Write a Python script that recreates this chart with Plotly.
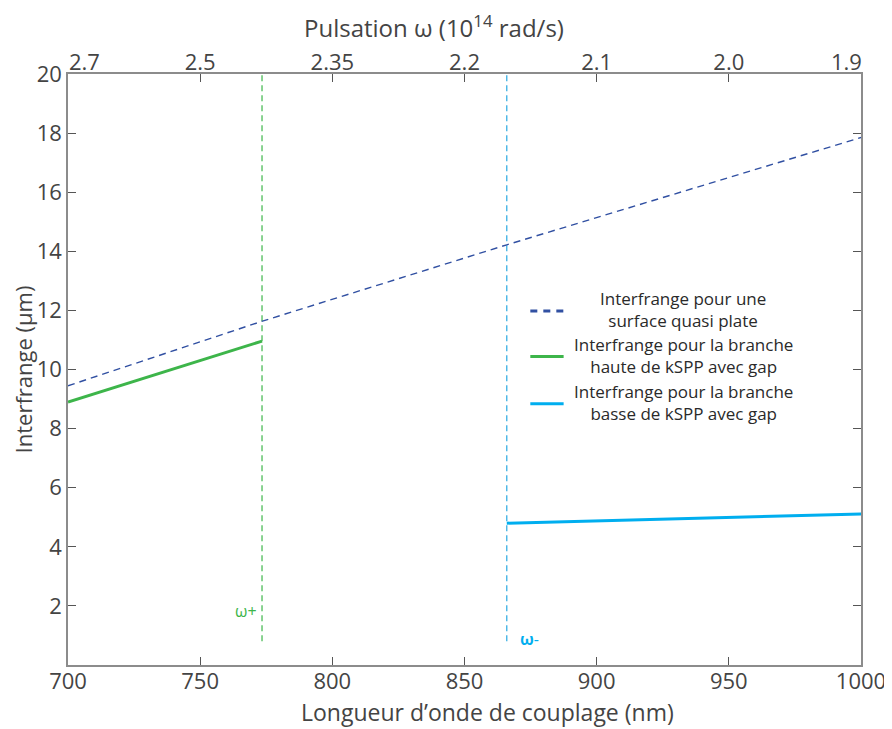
import plotly.graph_objects as go

# ---- data ----
wavelength_ticks = [700, 750, 800, 850, 900, 950, 1000]
omega_labels = ["2.7", "2.5", "2.35", "2.2", "2.1", "2.0", "1.9"]
y_ticks = [2, 4, 6, 8, 10, 12, 14, 16, 18, 20]

flat_x = [700, 773, 866, 1000]
flat_y = [9.45, 11.62, 14.22, 17.85]

high_x = [700, 773.4]
high_y = [8.9, 10.96]

low_x = [866, 1000]
low_y = [4.8, 5.11]

omega_plus_x = 773.4
omega_minus_x = 866
vline_y = [0.8, 20]

legend_names = [
    "Interfrange pour une<br>surface quasi plate",
    "Interfrange pour la branche<br>haute de kSPP avec gap",
    "Interfrange pour la branche<br>basse de kSPP avec gap",
]

x_title = "Longueur d’onde de couplage (nm)"
x2_title = "Pulsation ω (10<sup>14</sup> rad/s)"
y_title = "Interfrange (µm)"

NAVY = "#3150a2"
GREEN = "#3db54a"
CYAN = "#00aeef"
VCYAN = "#29a9e1"
TXT = "#444444"
FONT = "Open Sans"

fig = go.Figure()

fig.add_trace(go.Scatter(x=[omega_plus_x, omega_plus_x], y=vline_y, mode="lines",
                         line=dict(color=GREEN, width=1.2, dash="6px,4px"), showlegend=False))
fig.add_trace(go.Scatter(x=[omega_minus_x, omega_minus_x], y=vline_y, mode="lines",
                         line=dict(color=VCYAN, width=1.2, dash="6px,4px"), showlegend=False))
fig.add_trace(go.Scatter(x=flat_x, y=flat_y, mode="lines", name=legend_names[0],
                         line=dict(color=NAVY, width=1.4, dash="7px,5px"), showlegend=False))
fig.add_trace(go.Scatter(x=high_x, y=high_y, mode="lines", name=legend_names[1],
                         line=dict(color=GREEN, width=3), showlegend=False))
fig.add_trace(go.Scatter(x=low_x, y=low_y, mode="lines", name=legend_names[2],
                         line=dict(color=CYAN, width=3), showlegend=False))
# invisible trace for top axis
fig.add_trace(go.Scatter(x=[700, 1000], y=[None, None], xaxis="x2", mode="lines",
                         showlegend=False, hoverinfo="skip"))

# omega labels
fig.add_annotation(x=omega_plus_x, y=1.83, text="ω+", showarrow=False, xanchor="right",
                   xshift=-3, font=dict(color=GREEN, size=16, family=FONT))
fig.add_annotation(x=omega_minus_x, y=0.88, text="<b>ω</b>-", showarrow=False, xanchor="left",
                   xshift=11, font=dict(color=CYAN, size=16, family=FONT))

# top axis end labels (aligned inward like the reference)
fig.add_annotation(x=wavelength_ticks[0], y=1, xref="x", yref="paper", text=omega_labels[0],
                   showarrow=False, xanchor="left", yanchor="middle", yshift=13, xshift=-1,
                   font=dict(size=22, color=TXT, family=FONT))
fig.add_annotation(x=wavelength_ticks[-1], y=1, xref="x", yref="paper", text=omega_labels[-1],
                   showarrow=False, xanchor="right", yanchor="middle", yshift=13, xshift=3,
                   font=dict(size=22, color=TXT, family=FONT))
top_ticktext = [""] + omega_labels[1:-1] + [""]

# axis titles (placed as in the reference, slightly off-center)
fig.add_annotation(xref="paper", yref="paper", x=0.5296, y=0, yshift=-47, text=x_title,
                   showarrow=False, xanchor="center", yanchor="middle",
                   font=dict(size=23, color=TXT, family=FONT))
fig.add_annotation(xref="paper", yref="paper", x=0.4615, y=1, yshift=48, text=x2_title,
                   showarrow=False, xanchor="center", yanchor="middle",
                   font=dict(size=24, color=TXT, family=FONT))

# manual legend (centered text)
leg_y = [0.599, 0.522, 0.442]
leg_colors = [NAVY, GREEN, CYAN]
leg_dash = ["7px,6px", "solid", "solid"]
leg_w = [3, 3, 3]
for i in range(3):
    fig.add_shape(type="line", xref="paper", yref="paper", x0=0.583, x1=0.625,
                  y0=leg_y[i], y1=leg_y[i],
                  line=dict(color=leg_colors[i], width=leg_w[i], dash=leg_dash[i]))
    fig.add_annotation(xref="paper", yref="paper", x=0.776, y=leg_y[i] + 0.002,
                       text=legend_names[i], showarrow=False, align="center",
                       xanchor="center", yanchor="middle",
                       font=dict(size=17, color="#2a2a2a", family=FONT))

axis_common = dict(showline=True, linecolor="#8c8c8c", linewidth=1.5,
                   ticks="inside", tickcolor="#555555", ticklen=8, tickwidth=1,
                   showgrid=False, zeroline=False, automargin=False,
                   tickfont=dict(size=22, color=TXT, family=FONT))

fig.update_layout(
    width=892, height=729,
    margin=dict(l=60, r=39, t=66, b=72),
    plot_bgcolor="white", paper_bgcolor="white",
    font=dict(family=FONT, color=TXT),
    xaxis=dict(range=[700, 1000], tickvals=wavelength_ticks, ticklabelstandoff=-4,
               **axis_common),
    xaxis2=dict(range=[700, 1000], overlaying="x", side="top", anchor="y",
                tickvals=wavelength_ticks, ticktext=top_ticktext, ticklabelstandoff=-7,
                **axis_common),
    yaxis=dict(range=[0, 20], tickvals=y_ticks, mirror="ticks",
               title=dict(text=y_title, font=dict(size=22, color=TXT), standoff=4),
               **axis_common),
)

fig.write_html("out.html")
